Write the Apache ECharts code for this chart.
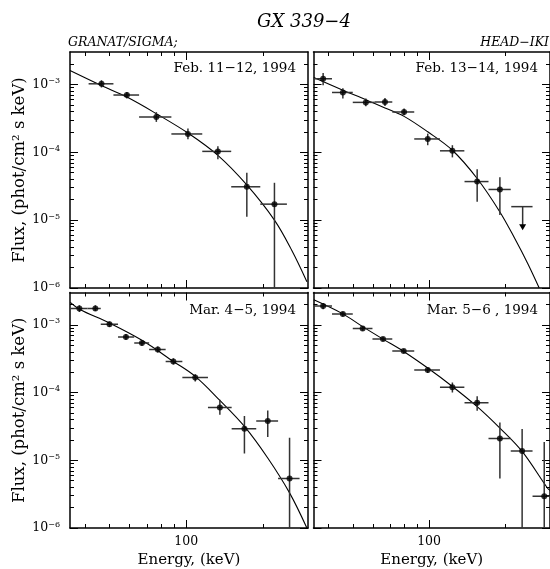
<!DOCTYPE html>
<html><head><meta charset="utf-8">
<script src="https://cdn.jsdelivr.net/npm/echarts@6/dist/echarts.min.js"></script>
<style>html,body{margin:0;padding:0;background:#fff}#c{width:550px;height:569px}</style>
</head><body><div id="c"></div>
<script>
// ---------------- data ----------------
const chartTitle = 'GX 339−4';
const leftHeader = 'GRANAT/SIGMA;';
const rightHeader = 'HEAD−IKI';
const xAxisName = 'Energy, (keV)';
const yAxisName = 'Flux, (phot/cm² s keV)';
const panelTitles = ['Feb. 11−12, 1994', 'Feb. 13−14, 1994', 'Mar. 4−5, 1994', 'Mar. 5−6 , 1994'];

const energyRange = [35, 300];
const fluxRange = [1e-6, 3e-3];
const xMajorTicks = [100];
const xMinorTicks = [40, 50, 60, 70, 80, 90, 200];
const xLabelTicks = [100];
const yMajorTicks = [1e-6, 1e-5, 1e-4, 1e-3];
const yMinorTicks = [2e-6, 3e-6, 4e-6, 5e-6, 6e-6, 7e-6, 8e-6, 9e-6,
  2e-5, 3e-5, 4e-5, 5e-5, 6e-5, 7e-5, 8e-5, 9e-5,
  2e-4, 3e-4, 4e-4, 5e-4, 6e-4, 7e-4, 8e-4, 9e-4, 2e-3];
const yLabelTicks = [1e-6, 1e-5, 1e-4, 1e-3];

// Feb. 11-12
const febAE = [46.5, 58.5, 76.3, 101.5, 133, 172.7, 221.6];
const febAElo = [41.4, 51.8, 65.3, 87.4, 115.5, 150, 195];
const febAEhi = [51.8, 65.3, 87.4, 115.5, 150, 195, 248];
const febAF = [1.02e-3, 6.97e-4, 3.3e-4, 1.86e-4, 1.03e-4, 3.1e-5, 1.72e-5];
const febAFlo = [0.9e-3, 6.2e-4, 2.8e-4, 1.55e-4, 0.79e-4, 1.12e-5, 1e-6];
const febAFhi = [1.15e-3, 7.7e-4, 3.9e-4, 2.24e-4, 1.23e-4, 5.0e-5, 3.55e-5];
const febAModelE = [35, 46.5, 58.5, 76.3, 101.5, 133, 172.7, 221.6, 259, 297];
const febAModelF = [1.6e-3, 9.6e-4, 6.5e-4, 3.7e-4, 1.92e-4, 9.0e-5, 3.3e-5, 1.0e-5, 3.6e-6, 1.24e-6];

// Feb. 13-14
const febBE = [38.2, 45.7, 56.3, 67, 79.7, 98.8, 123.6, 154.8, 190.3];
const febBElo = [35.1, 41.4, 50, 61, 71.6, 87.4, 110.4, 138, 171.6];
const febBEhi = [41.4, 50, 61, 71.6, 87.4, 110.4, 137.8, 171.6, 210];
const febBF = [1.21e-3, 7.6e-4, 5.43e-4, 5.5e-4, 3.92e-4, 1.57e-4, 1.05e-4, 3.7e-5, 2.83e-5];
const febBFlo = [0.97e-3, 6.2e-4, 4.75e-4, 4.8e-4, 3.5e-4, 1.27e-4, 8.4e-5, 1.86e-5, 1.19e-5];
const febBFhi = [1.47e-3, 8.8e-4, 6.2e-4, 6.3e-4, 4.4e-4, 1.88e-4, 1.27e-4, 5.6e-5, 4.3e-5];
const febBLimitE = [234];
const febBLimitElo = [211];
const febBLimitEhi = [256];
const febBLimitF = [1.58e-5];
const febBLimitArrow = [7.1e-6];
const febBModelE = [35.1, 45.7, 56.3, 67, 79.7, 98.8, 123.6, 154.8, 190.3, 217.6, 245, 272];
const febBModelF = [1.26e-3, 8.2e-4, 5.95e-4, 4.5e-4, 3.38e-4, 2.0e-4, 1.07e-4, 4.1e-5, 1.32e-5, 5.4e-6, 2.3e-6, 1.0e-6];

// Mar. 4-5
const marAE = [38.1, 44, 50, 58, 67, 77.3, 89, 108.4, 135.4, 169, 208.6, 254];
const marAElo = [35.3, 41, 46.2, 54, 62.5, 71.5, 83, 96.5, 121.6, 150.6, 188, 229];
const marAEhi = [41, 46.2, 54, 62.5, 71.5, 83, 96.5, 121.6, 150.6, 188, 229, 278];
const marAF = [1.74e-3, 1.74e-3, 1.02e-3, 6.6e-4, 5.37e-4, 4.32e-4, 2.88e-4, 1.67e-4, 6.0e-5, 2.92e-5, 3.8e-5, 5.4e-6];
const marAFlo = [1.55e-3, 1.6e-3, 0.93e-3, 6.0e-4, 4.9e-4, 3.9e-4, 2.6e-4, 1.46e-4, 4.7e-5, 1.26e-5, 2.2e-5, 1e-6];
const marAFhi = [1.95e-3, 1.95e-3, 1.12e-3, 7.3e-4, 5.9e-4, 4.8e-4, 3.2e-4, 1.87e-4, 7.8e-5, 4.5e-5, 5.45e-5, 2.15e-5];
const marAModelE = [35.1, 38.1, 50, 67, 89, 108.4, 135.4, 169, 208.6, 254, 297];
const marAModelF = [2.14e-3, 1.7e-3, 1.06e-3, 5.9e-4, 2.88e-4, 1.73e-4, 7.65e-5, 3.16e-5, 1.08e-5, 3.3e-6, 1.0e-6];

// Mar. 5-6
const marBE = [38.2, 45.7, 54.7, 65.8, 79.4, 98.8, 123.6, 154.8, 190.3, 232.9, 284.7];
const marBElo = [35.1, 41.4, 50, 59.8, 71.6, 87.4, 110.4, 138, 171.6, 210, 256];
const marBEhi = [41.4, 50, 59.8, 71.6, 87.4, 110.4, 137.8, 171.6, 210, 256, 300];
const marBF = [1.9e-3, 1.44e-3, 8.8e-4, 6.15e-4, 4.09e-4, 2.15e-4, 1.2e-4, 7.08e-5, 2.09e-5, 1.37e-5, 2.94e-6];
const marBFlo = [1.7e-3, 1.33e-3, 8.2e-4, 5.7e-4, 3.8e-4, 1.95e-4, 1.0e-4, 5.4e-5, 5.37e-6, 1e-6, 1e-6];
const marBFhi = [2.1e-3, 1.56e-3, 9.5e-4, 6.6e-4, 4.4e-4, 2.35e-4, 1.41e-4, 8.8e-5, 3.6e-5, 2.9e-5, 1.86e-5];
const marBModelE = [35.1, 45.7, 54.7, 65.8, 79.4, 98.8, 123.6, 154.8, 190.3, 232.9, 293, 300];
const marBModelF = [2.34e-3, 1.45e-3, 9.4e-4, 6.15e-4, 4.04e-4, 2.3e-4, 1.23e-4, 6.2e-5, 2.99e-5, 1.35e-5, 3.9e-6, 3.6e-6];

// ---------------- layout / style ----------------
const FONT = '"DejaVu Serif", "Liberation Serif", serif';
const gridPos = [
  {left: 70, top: 52, width: 238, height: 236},
  {left: 313.5, top: 52, width: 238.5, height: 236},
  {left: 70, top: 292.5, width: 238, height: 236},
  {left: 313.5, top: 292.5, width: 238.5, height: 236}
];
const labelPos = [[296, 68], [538, 68], [296, 310], [538, 310]];

const panels = [
  {E: febAE, Elo: febAElo, Ehi: febAEhi, F: febAF, Flo: febAFlo, Fhi: febAFhi, mE: febAModelE, mF: febAModelF},
  {E: febBE, Elo: febBElo, Ehi: febBEhi, F: febBF, Flo: febBFlo, Fhi: febBFhi, mE: febBModelE, mF: febBModelF,
   lim: {E: febBLimitE, Elo: febBLimitElo, Ehi: febBLimitEhi, F: febBLimitF, A: febBLimitArrow}},
  {E: marAE, Elo: marAElo, Ehi: marAEhi, F: marAF, Flo: marAFlo, Fhi: marAFhi, mE: marAModelE, mF: marAModelF},
  {E: marBE, Elo: marBElo, Ehi: marBEhi, F: marBF, Flo: marBFlo, Fhi: marBFhi, mE: marBModelE, mF: marBModelF}
];

const lg = v => Math.log10(v);
const frameLine = {show: true, onZero: false, lineStyle: {color: '#000', width: 1.5}};
const noLine = {show: false, onZero: false};
function tick(vals, len) {
  return {show: true, inside: true, length: len, customValues: vals.map(lg), lineStyle: {color: '#000', width: 1}};
}

const grids = [], xAxes = [], yAxes = [], series = [];

function errRender(params, api) {
  const e = api.value(0), elo = api.value(1), ehi = api.value(2);
  const f = api.value(3), flo = api.value(4), fhi = api.value(5);
  const a = api.coord([elo, f]), b = api.coord([ehi, f]);
  const c = api.coord([e, fhi]), d = api.coord([e, flo]);
  const st = {stroke: '#333', lineWidth: 1.5};
  return {type: 'group', children: [
    {type: 'line', shape: {x1: a[0], y1: a[1], x2: b[0], y2: b[1]}, style: st},
    {type: 'line', shape: {x1: c[0], y1: c[1], x2: d[0], y2: d[1]}, style: st}
  ]};
}
function limRender(params, api) {
  const e = api.value(0), elo = api.value(1), ehi = api.value(2);
  const f = api.value(3), fa = api.value(4);
  const a = api.coord([elo, f]), b = api.coord([ehi, f]);
  const c = api.coord([e, f]), d = api.coord([e, fa]);
  const st = {stroke: '#333', lineWidth: 1.5};
  return {type: 'group', children: [
    {type: 'line', shape: {x1: a[0], y1: a[1], x2: b[0], y2: b[1]}, style: st},
    {type: 'line', shape: {x1: c[0], y1: c[1], x2: d[0], y2: d[1] - 5}, style: st},
    {type: 'polygon', shape: {points: [[d[0] - 3.5, d[1] - 6], [d[0] + 3.5, d[1] - 6], [d[0], d[1]]]}, style: {fill: '#000'}}
  ]};
}

panels.forEach((p, g) => {
  const pos = gridPos[g];
  const bottomRow = g >= 2, leftCol = g % 2 === 0;
  grids.push({left: pos.left, top: pos.top, width: pos.width, height: pos.height, containLabel: false});
  const hidden = {gridIndex: g, splitLine: {show: false}, axisLabel: {show: false}, axisLine: noLine, axisTick: {show: false}, minorTick: {show: false}};
  // data axes (log scale, not drawn)
  const xi = xAxes.length, yi = yAxes.length;
  xAxes.push(Object.assign({}, hidden, {type: 'log', logBase: 10, min: energyRange[0], max: energyRange[1], position: 'bottom'}));
  yAxes.push(Object.assign({}, hidden, {type: 'log', logBase: 10, min: fluxRange[0], max: fluxRange[1], position: 'left'}));
  // decoration axes in log10 space (ticks, frame, labels)
  const xb = Object.assign({}, hidden, {type: 'value', min: lg(energyRange[0]), max: lg(energyRange[1])});
  const yb = Object.assign({}, hidden, {type: 'value', min: lg(fluxRange[0]), max: lg(fluxRange[1])});
  xAxes.push(Object.assign({}, xb, {position: 'bottom', axisLine: frameLine, axisTick: tick(xMajorTicks, 8),
    axisLabel: bottomRow ? {show: true, customValues: xLabelTicks.map(lg), margin: 7, color: '#000',
      fontFamily: FONT, fontSize: 12.5, formatter: v => String(Math.round(Math.pow(10, v)))} : {show: false},
    name: bottomRow ? xAxisName : '', nameLocation: 'middle', nameGap: 25,
    nameTextStyle: {fontFamily: FONT, fontSize: 15, color: '#000'}}));
  xAxes.push(Object.assign({}, xb, {position: 'bottom', axisTick: tick(xMinorTicks, 4)}));
  xAxes.push(Object.assign({}, xb, {position: 'top', axisLine: frameLine, axisTick: tick(xMajorTicks, 8)}));
  xAxes.push(Object.assign({}, xb, {position: 'top', axisTick: tick(xMinorTicks, 4)}));

  yAxes.push(Object.assign({}, yb, {position: 'left', axisLine: frameLine, axisTick: tick(yMajorTicks, 8),
    axisLabel: leftCol ? {show: true, customValues: yLabelTicks.map(lg), margin: 10,
      formatter: v => '{b|10}{s|−' + Math.round(-v) + '}',
      rich: {b: {fontFamily: FONT, fontSize: 12.5, color: '#000', lineHeight: 15},
             s: {fontFamily: FONT, fontSize: 8, color: '#000', lineHeight: 9, verticalAlign: 'top'}}} : {show: false},
    name: leftCol ? yAxisName : '', nameLocation: 'middle', nameGap: 40, nameRotate: 90,
    nameTextStyle: {fontFamily: FONT, fontSize: 16.5, color: '#000'}}));
  yAxes.push(Object.assign({}, yb, {position: 'left', axisTick: tick(yMinorTicks, 4)}));
  yAxes.push(Object.assign({}, yb, {position: 'right', axisLine: frameLine, axisTick: tick(yMajorTicks, 8)}));
  yAxes.push(Object.assign({}, yb, {position: 'right', axisTick: tick(yMinorTicks, 4)}));

  series.push({type: 'line', xAxisIndex: xi, yAxisIndex: yi, data: p.mE.map((e, i) => [e, p.mF[i]]),
    showSymbol: false, smooth: 0.35, clip: true, lineStyle: {color: '#000', width: 1.1}, z: 3, silent: true});
  series.push({type: 'custom', xAxisIndex: xi, yAxisIndex: yi, renderItem: errRender, clip: true, z: 4,
    encode: {x: [0, 1, 2], y: [3, 4, 5]},
    data: p.E.map((e, i) => [e, p.Elo[i], p.Ehi[i], p.F[i], p.Flo[i], p.Fhi[i]])});
  series.push({type: 'scatter', xAxisIndex: xi, yAxisIndex: yi, symbol: 'circle', symbolSize: 6, z: 5,
    itemStyle: {color: '#000'}, data: p.E.map((e, i) => [e, p.F[i]])});
  if (p.lim) {
    series.push({type: 'custom', xAxisIndex: xi, yAxisIndex: yi, renderItem: limRender, clip: true, z: 4,
      encode: {x: [0, 1, 2], y: [3, 4]},
      data: p.lim.E.map((e, i) => [e, p.lim.Elo[i], p.lim.Ehi[i], p.lim.F[i], p.lim.A[i]])});
  }
});

const graphics = [
  {type: 'text', x: 304, y: 22, style: {text: chartTitle, font: 'italic 18px ' + FONT, fill: '#000', align: 'center', verticalAlign: 'middle'}},
  {type: 'text', x: 68, y: 43, style: {text: leftHeader, font: 'italic 12.5px ' + FONT, fill: '#000', align: 'left', verticalAlign: 'middle'}},
  {type: 'text', x: 549, y: 43, style: {text: rightHeader, font: 'italic 12.5px ' + FONT, fill: '#000', align: 'right', verticalAlign: 'middle'}}
];
panelTitles.forEach((t, i) => {
  graphics.push({type: 'text', x: labelPos[i][0], y: labelPos[i][1],
    style: {text: t, font: '13.5px ' + FONT, fill: '#000', align: 'right', verticalAlign: 'middle'}});
});

const chart = echarts.init(document.getElementById('c'), null, {renderer: 'canvas'});
chart.setOption({
  animation: false,
  backgroundColor: '#fff',
  grid: grids,
  xAxis: xAxes,
  yAxis: yAxes,
  series: series,
  graphic: graphics
});
</script>
</body></html>
